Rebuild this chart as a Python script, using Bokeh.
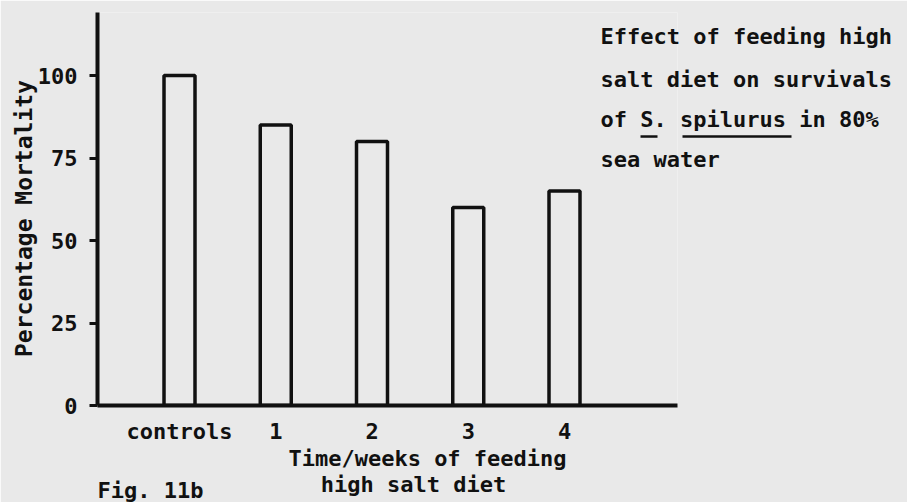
import math
from bokeh.plotting import figure
from bokeh.models import Range1d, FixedTicker
from bokeh.core.properties import value
from bokeh.embed import file_html
from bokeh.resources import INLINE

# ---- data ----
categories = ["controls", "1", "2", "3", "4"]
mortality = [100, 85, 80, 60, 65]
y_ticks = [0, 25, 50, 75, 100]
y_label = "Percentage Mortality"
x_label_lines = ["Time/weeks of feeding", "high salt diet"]
note_lines = ["Effect of feeding high", "salt diet on survivals",
              "of S. spilurus in 80%", "sea water"]
fig_label = "Fig. 11b"

positions = list(range(len(categories)))

BG = "#e9e9e9"
INK = "#111111"
FONT = "DejaVu Sans Mono"

p = figure(width=907, height=502, output_backend="svg", toolbar_location=None,
           x_range=Range1d(-0.852, 5.174), y_range=Range1d(0, 119.1),
           min_border_left=97, min_border_right=230, min_border_top=12,
           min_border_bottom=97)
p.background_fill_color = BG
p.border_fill_color = BG
p.outline_line_color = None
p.grid.visible = False

p.vbar(x=positions, top=mortality, width=0.322, bottom=0,
       fill_color=None, line_color=INK, line_width=3.5)

# axes
for ax in (p.xaxis[0], p.yaxis[0]):
    ax.axis_line_color = INK
    ax.axis_line_width = 4
    ax.minor_tick_line_color = None
    ax.major_label_text_font = FONT
    ax.major_label_text_font_style = "bold"
    ax.major_label_text_font_size = "22px"
    ax.major_label_text_color = INK

p.yaxis.ticker = FixedTicker(ticks=y_ticks)
p.yaxis.major_tick_line_color = INK
p.yaxis.major_tick_line_width = 3
p.yaxis.major_tick_out = 8
p.yaxis.major_tick_in = 0
p.yaxis.major_label_standoff = 12

p.xaxis.ticker = FixedTicker(ticks=positions)
p.xaxis.major_label_overrides = {i: c for i, c in zip(positions, categories)}
p.xaxis.major_tick_line_color = None
p.xaxis.major_tick_out = 0
p.xaxis.major_tick_in = 0
p.xaxis.major_label_standoff = 13


# helper: pixel -> data coords (bar 0 centre at x=179 px, value 0 at y=405 px)
def dx(px):
    return (px - 179) / 96.25


def dy(py):
    return (405 - py) / 3.3


txt = dict(text_font=value(FONT), text_font_style="bold", text_color=INK,
           text_baseline="alphabetic", level="overlay")

# y axis title (rotated)
p.text(x=[dx(23)], y=[dy(218)], text=[y_label], angle=math.pi / 2,
       text_align="center", text_font_size=value("23px"), **txt)

# x axis title (two lines)
p.text(x=[dx(427), dx(413)], y=[dy(458), dy(484)], text=x_label_lines,
       text_align="center", text_font_size=value("22px"), **txt)

# note block on the right
p.text(x=[dx(600)] * len(note_lines), y=[dy(b) for b in (36, 79, 119, 159)],
       text=note_lines, text_align="left", text_font_size=value("22px"), **txt)

# underlines for the species name
p.segment(x0=[dx(640), dx(682)], y0=[dy(136), dy(136)],
          x1=[dx(657), dx(791)], y1=[dy(136), dy(136)],
          line_color=INK, line_width=2.5, level="overlay")

# figure caption (near the bottom edge, as in the original)
p.text(x=[dx(97)], y=[dy(490)], text=[fig_label], text_align="left",
       text_font_size=value("22px"), **txt)

open("out.html", "w").write(file_html(p, INLINE))
